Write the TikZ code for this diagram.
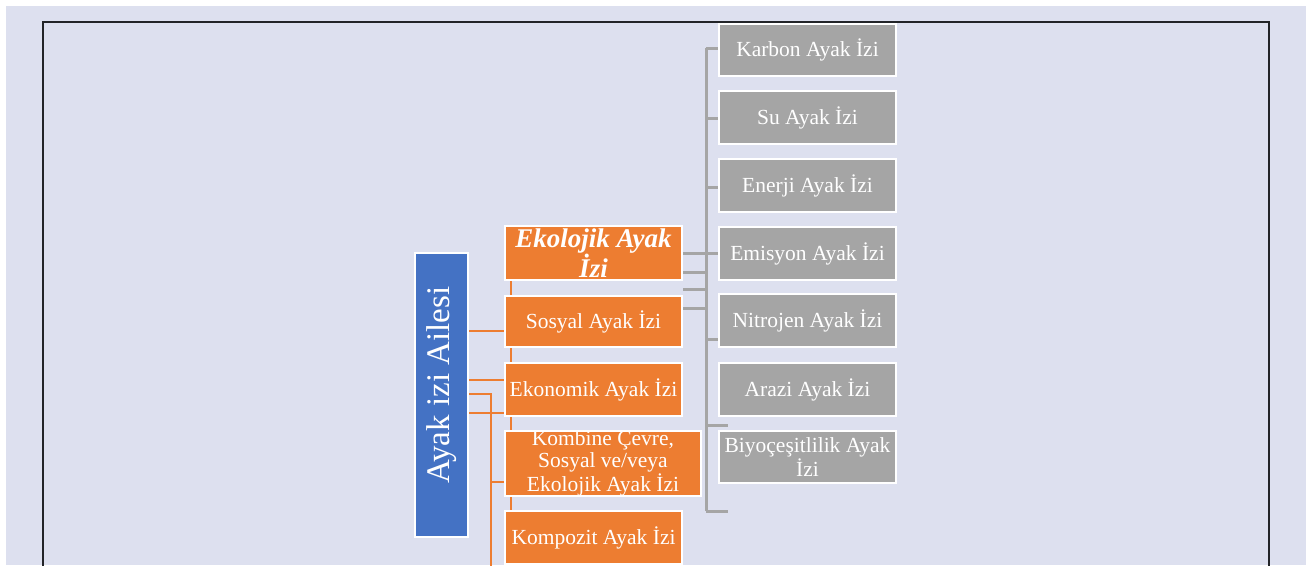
\documentclass[tikz,border=0pt]{standalone}
\usepackage{fontspec}
\setmainfont{Liberation Serif}
\usetikzlibrary{backgrounds}
\definecolor{bg}{HTML}{DDE0EF}
\definecolor{org}{HTML}{ED7D31}
\definecolor{blu}{HTML}{4472C4}
\definecolor{gry}{HTML}{A5A5A5}
\definecolor{frm}{HTML}{222428}
\tikzset{
  basebox/.style={draw=white, line width=2pt, text=white, align=center, inner sep=0pt},
  obox/.style={basebox, fill=org, minimum width=177pt, minimum height=53pt, font=\fontsize{21.5}{22}\selectfont},
  gbox/.style={basebox, fill=gry, minimum width=177pt, minimum height=53pt, font=\fontsize{21.5}{22}\selectfont},
  oline/.style={draw=org, line width=2.5pt},
  gline/.style={draw=gry, line width=3pt},
}
\begin{document}
\begin{tikzpicture}[x=1pt,y=-1pt]
\useasboundingbox (0,0) rectangle (1306,565);
\clip (0,0) rectangle (1306,565);

% coordinates for connector levels
\coordinate (oV) at (511,0);
\coordinate (oV2) at (491,0);
\coordinate (gV) at (706,0);
\coordinate (oy1) at (0,331);
\coordinate (oy2) at (0,380);
\coordinate (oy3) at (0,394);
\coordinate (oy4) at (0,413);
\coordinate (oy5) at (0,482);
\coordinate (oend) at (491,580);
\coordinate (gy1) at (0,48);
\coordinate (gy2) at (0,118);
\coordinate (gy3) at (0,187);
\coordinate (gy4) at (0,253);
\coordinate (gy5) at (0,339);
\coordinate (gy6) at (0,425);
\coordinate (gy7) at (0,511);
\coordinate (gy8) at (0,272);
\coordinate (gy9) at (0,289);
\coordinate (gy10) at (0,308);
\coordinate (gtip) at (728,0);

\path
  node[basebox, fill=blu, rotate=90, minimum width=284pt, minimum height=53pt,
       font=\fontsize{33}{33}\selectfont] (blue) at (441.5,395) {\hspace*{20pt}Ayak izi Ailesi}
  node[obox, minimum height=54pt, font=\fontsize{27}{26}\selectfont\bfseries\itshape] (eko) at (593.5,253) {Ekolojik Ayak\\İzi}
  node[obox, minimum height=51pt] (sos) at (593.5,321.5) {Sosyal Ayak İzi}
  node[obox] (ekn) at (593.5,389.5) {Ekonomik Ayak İzi}
  node[obox, minimum width=196pt, minimum height=65pt] (kom) at (603,463.5) {Kombine Çevre,\\Sosyal ve/veya\\Ekolojik Ayak İzi}
  node[obox] (kmp) at (593.5,537.5) {Kompozit Ayak İzi}
  node[gbox, minimum height=52pt] (karbon) at (807.5,50) {Karbon Ayak İzi}
  node[gbox] (su) at (807.5,117.5) {Su Ayak İzi}
  node[gbox] (enerji) at (807.5,185.5) {Enerji Ayak İzi}
  node[gbox] (emisyon) at (807.5,253.5) {Emisyon Ayak İzi}
  node[gbox] (nitro) at (807.5,320.5) {Nitrojen Ayak İzi}
  node[gbox] (arazi) at (807.5,389.5) {Arazi Ayak İzi}
  node[gbox, minimum height=52pt] (biyo) at (807.5,457) {Biyoçeşitlilik Ayak\\İzi};

\begin{scope}[on background layer]
  \fill[white] (0,0) rectangle (1306,565);
  \fill[bg] (6,6) rectangle (1306,565);
  \draw[frm, line width=2pt] (43,22) rectangle (1268.5,620);
  % orange connectors
  \draw[oline] (eko.south -| oV) -- (kmp.north -| oV);
  \draw[oline] (blue.south |- oy1) -- (sos.west |- oy1);
  \draw[oline] (blue.south |- oy2) -- (ekn.west |- oy2);
  \draw[oline] (blue.south |- oy3) -- (oV2 |- oy3) -- (oend);
  \draw[oline] (blue.south |- oy4) -- (ekn.west |- oy4);
  \draw[oline] (oV2 |- oy5) -- (kom.west |- oy5);
  % gray connectors
  \draw[gline] (gV |- gy1) -- (gV |- gy7);
  \draw[gline] (gV |- gy1) -- (karbon.west |- gy1);
  \draw[gline] (gV |- gy2) -- (su.west |- gy2);
  \draw[gline] (gV |- gy3) -- (enerji.west |- gy3);
  \draw[gline] (eko.east |- gy4) -- (emisyon.west |- gy4);
  \draw[gline] (gV |- gy5) -- (nitro.west |- gy5);
  \draw[gline] (gV |- gy6) -- (gtip |- gy6);
  \draw[gline] (gV |- gy7) -- (gtip |- gy7);
  \draw[gline] (eko.east |- gy8) -- (gV |- gy8);
  \draw[gline] (eko.east |- gy9) -- (gV |- gy9);
  \draw[gline] (sos.east |- gy10) -- (gV |- gy10);
\end{scope}
\end{tikzpicture}
\end{document}
